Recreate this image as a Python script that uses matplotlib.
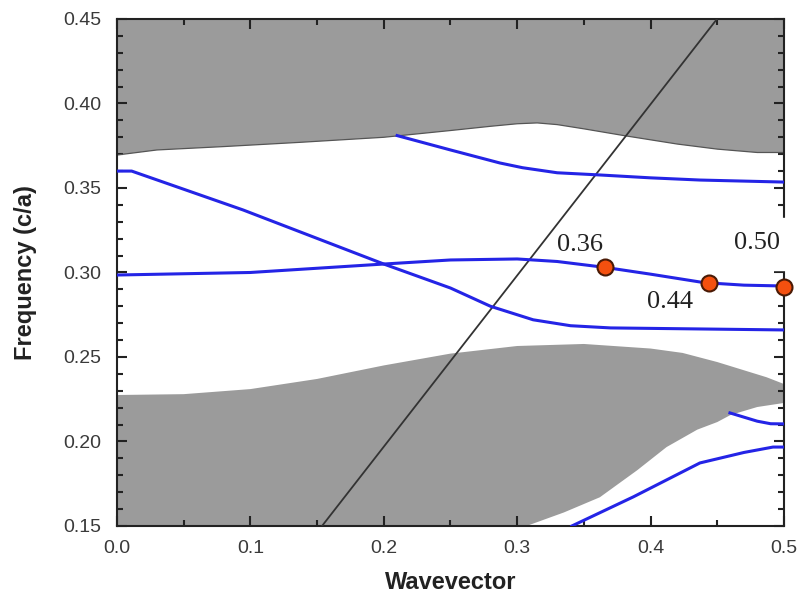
import numpy as np
import matplotlib as mpl
mpl.use('Agg')
import matplotlib.pyplot as plt
from matplotlib.ticker import MultipleLocator

# upper grey band, its lower edge
up_k = [0, 0.03, 0.08, 0.137, 0.2, 0.25, 0.28, 0.3, 0.315, 0.33, 0.35, 0.38, 0.42, 0.45, 0.48, 0.5]
up_f = [0.3695, 0.3725, 0.3745, 0.377, 0.380, 0.384, 0.3865, 0.388, 0.3885, 0.3875, 0.385, 0.381, 0.376, 0.373, 0.371, 0.371]

# lower grey band: top edge and bottom edge
lo_top_k = [0, 0.05, 0.1, 0.15, 0.2, 0.25, 0.3, 0.35, 0.4, 0.424, 0.45, 0.487, 0.5]
lo_top_f = [0.2275, 0.228, 0.231, 0.237, 0.245, 0.252, 0.2565, 0.2577, 0.255, 0.2524, 0.247, 0.238, 0.234]
lo_bot_k = [0, 0.307, 0.335, 0.362, 0.39, 0.412, 0.435, 0.45, 0.46, 0.48, 0.5]
lo_bot_f = [0.15, 0.15, 0.158, 0.167, 0.183, 0.1967, 0.207, 0.2115, 0.2157, 0.2204, 0.2228]

# bands (blue)
b1_k = [0, 0.011, 0.0945, 0.2, 0.25, 0.28, 0.312, 0.34, 0.37, 0.5]
b1_f = [0.360, 0.360, 0.337, 0.305, 0.2908, 0.280, 0.272, 0.2685, 0.2672, 0.266]
b2_k = [0, 0.1, 0.2, 0.25, 0.3, 0.33, 0.366, 0.4, 0.44, 0.47, 0.5]
b2_f = [0.2985, 0.300, 0.305, 0.3074, 0.308, 0.3065, 0.303, 0.299, 0.294, 0.2925, 0.292]
b3_k = [0.21, 0.25, 0.287, 0.304, 0.33, 0.362, 0.4, 0.437, 0.5]
b3_f = [0.381, 0.3725, 0.3648, 0.362, 0.359, 0.3577, 0.356, 0.3547, 0.3535]
b4_k = [0.4595, 0.48, 0.49, 0.5]
b4_f = [0.2169, 0.212, 0.2105, 0.2104]
b5_k = [0.341, 0.387, 0.437, 0.47, 0.4918, 0.5]
b5_f = [0.15, 0.1672, 0.1873, 0.1935, 0.1967, 0.1967]

# light line
ll_k = [0.1537, 0.4498]
ll_f = [0.15, 0.45]

# marked points
pt_k = [0.366, 0.4438, 0.5]
pt_f = [0.303, 0.2938, 0.2914]
pt_lab = ['0.36', '0.44', '0.50']
lab_k = [0.347, 0.4145, 0.48]
lab_f = [0.3163, 0.2826, 0.3175]

plt.rcParams['font.family'] = ['Liberation Sans', 'DejaVu Sans']

fig = plt.figure(figsize=(8.03, 5.95), dpi=100)
ax = fig.add_axes([0.1457, 0.1160, 0.8306, 0.8521])

grey = '#9b9b9b'
ax.fill(up_k + [0.5, 0], up_f + [0.45, 0.45], color=grey, lw=0, zorder=1)
ax.plot(up_k, up_f, color='#555555', lw=0.9, zorder=2)
ax.fill(lo_top_k + lo_bot_k[::-1], lo_top_f + lo_bot_f[::-1], color=grey, lw=0, zorder=1)

ax.plot(ll_k, ll_f, color='#333333', lw=1.3, zorder=3)

blue = '#2424e6'
for k, f in [(b1_k, b1_f), (b2_k, b2_f), (b3_k, b3_f), (b4_k, b4_f), (b5_k, b5_f)]:
    ax.plot(k, f, color=blue, lw=2.2, zorder=4)

ax.plot(pt_k, pt_f, 'o', ms=11.5, mfc='#f4500f', mec='#4a1a05', mew=1.5, zorder=6, clip_on=False)
for s, x, y in zip(pt_lab, lab_k, lab_f):
    ax.text(x, y, s, fontsize=19, family=['Liberation Serif', 'DejaVu Serif'], color='#222222',
            ha='center', va='center', zorder=7)

ax.set_xlim(0, 0.5)
ax.set_ylim(0.15, 0.45)
ax.xaxis.set_major_locator(MultipleLocator(0.1))
ax.xaxis.set_minor_locator(MultipleLocator(0.05))
ax.yaxis.set_major_locator(MultipleLocator(0.05))
ax.yaxis.set_minor_locator(MultipleLocator(0.01))
ax.xaxis.set_major_formatter(mpl.ticker.FormatStrFormatter('%.1f'))
ax.yaxis.set_major_formatter(mpl.ticker.FormatStrFormatter('%.2f'))
ax.tick_params(which='both', direction='in', top=True, right=True, width=1.5, labelsize=14,
               labelcolor='#3a3a3a', color='#222222')
ax.tick_params(which='major', length=7)
ax.tick_params(which='minor', length=4)
ax.tick_params(axis='x', pad=10)
ax.tick_params(axis='y', pad=11)
for sp in ax.spines.values():
    sp.set_linewidth(1.5)
    sp.set_color('#222222')

# gap in the right frame behind the 0.50 label
ax.add_patch(plt.Rectangle((0.488, 0.3012), 0.02, 0.031, color='white', zorder=5,
                           clip_on=False, transform=ax.transData))

ax.set_xlabel('Wavevector', fontsize=17, fontweight='bold', color='#222222', labelpad=10)
ax.set_ylabel('Frequency (c/a)', fontsize=17, fontweight='bold', color='#222222', labelpad=19)

plt.savefig('out.png', dpi=100)
plt.close()
